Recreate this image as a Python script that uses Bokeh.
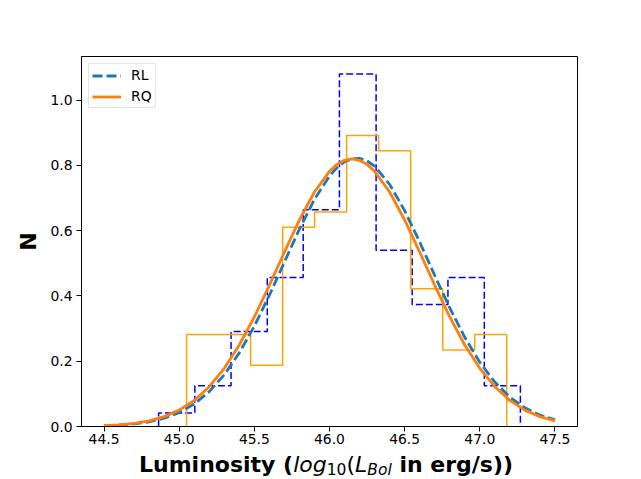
from bokeh.plotting import figure
from bokeh.models import Range1d, FixedTicker, PrintfTickFormatter, Legend, Div
from bokeh.layouts import column
from bokeh.embed import file_html
from bokeh.resources import INLINE

# ---- data ----
rl_edges = [44.863, 45.104, 45.345, 45.586, 45.825, 46.066, 46.310, 46.550, 46.788, 47.030, 47.270]
rl_heights = [0.0415, 0.1246, 0.2908, 0.4570, 0.6646, 1.0800, 0.5400, 0.3738, 0.4570, 0.1246]

rq_edges = [45.049, 45.262, 45.475, 45.688, 45.901, 46.114, 46.327, 46.540, 46.753, 46.966, 47.179]
rq_heights = [0.2817, 0.2817, 0.1878, 0.6103, 0.6573, 0.8920, 0.8451, 0.4225, 0.2347, 0.2817]

fit_x = [44.5, 44.6, 44.7, 44.8, 44.9, 45.0, 45.1, 45.2, 45.3, 45.4, 45.5,
         45.6, 45.7, 45.8, 45.9, 46.0, 46.05, 46.1, 46.15, 46.2, 46.25, 46.3, 46.4, 46.5,
         46.6, 46.7, 46.8, 46.9, 47.0, 47.1, 47.2, 47.3, 47.4, 47.5]
rl_fit = [0.0020, 0.0041, 0.0078, 0.0144, 0.0253, 0.0427, 0.0689, 0.1068, 0.1586, 0.2257, 0.3078,
          0.4023, 0.5040, 0.6051, 0.6962, 0.7677, 0.7935, 0.8114, 0.8209, 0.8218, 0.8139, 0.7977,
          0.7421, 0.6616, 0.5653, 0.4629, 0.3633, 0.2733, 0.1970, 0.1361, 0.0901, 0.0572, 0.0348, 0.0203]
rq_fit = [0.0026, 0.0051, 0.0097, 0.0175, 0.0302, 0.0502, 0.0799, 0.1219, 0.1782, 0.2498, 0.3359,
          0.4328, 0.5346, 0.6330, 0.7186, 0.7820, 0.8034, 0.8157, 0.8200, 0.8157, 0.8034, 0.7820,
          0.7186, 0.6330, 0.5346, 0.4328, 0.3359, 0.2498, 0.1782, 0.1219, 0.0799, 0.0502, 0.0302, 0.0175]

x_ticks = [44.5, 45.0, 45.5, 46.0, 46.5, 47.0, 47.5]
y_ticks = [0.0, 0.2, 0.4, 0.6, 0.8, 1.0]


def step_outline(edges, heights):
    xs = [edges[0]]
    ys = [0.0]
    for i, h in enumerate(heights):
        xs += [edges[i], edges[i + 1]]
        ys += [h, h]
    xs.append(edges[-1])
    ys.append(0.0)
    return xs, ys


W, H = 632, 451
p = figure(width=W, height=H, output_backend="svg", toolbar_location=None,
           x_range=Range1d(44.35, 47.65), y_range=Range1d(0, 1.134))
p.min_border_left = 81
p.min_border_right = W - 577
p.min_border_top = 56
p.min_border_bottom = H - 426
p.background_fill_color = "white"
p.border_fill_color = "white"
p.outline_line_color = "black"
p.outline_line_width = 1
p.grid.visible = False

for ax in (p.xaxis, p.yaxis):
    ax.axis_line_color = "black"
    ax.axis_line_width = 1
    ax.major_tick_line_color = "black"
    ax.major_tick_in = 0
    ax.major_tick_out = 5
    ax.minor_tick_line_color = None
    ax.major_label_text_font = "DejaVu Sans"
    ax.major_label_text_font_size = "13.9px"
    ax.major_label_text_color = "black"

p.xaxis.ticker = FixedTicker(ticks=x_ticks)
p.yaxis.ticker = FixedTicker(ticks=y_ticks)
p.xaxis.formatter = PrintfTickFormatter(format="%.1f")
p.yaxis.formatter = PrintfTickFormatter(format="%.1f")
p.xaxis.major_label_standoff = 2
p.yaxis.major_label_standoff = 4

p.yaxis.axis_label = "N"
p.yaxis.axis_label_text_font = "DejaVu Sans"
p.yaxis.axis_label_text_font_style = "bold"
p.yaxis.axis_label_text_font_size = "22px"
p.yaxis.axis_label_text_color = "black"
p.yaxis.axis_label_standoff = 6

# histograms
hx, hy = step_outline(rl_edges, rl_heights)
p.line(hx, hy, line_color="#0000ff", line_width=1.5, line_dash="7 3")
qx, qy = step_outline(rq_edges, rq_heights)
p.line(qx, qy, line_color="#ffa500", line_width=1.5)

# fitted curves
r_rl = p.line(fit_x, rl_fit, line_color="#1f77b4", line_width=2.8, line_dash="10 4")
r_rq = p.line(fit_x, rq_fit, line_color="#ff7f0e", line_width=2.8)

legend = Legend(items=[("RL", [r_rl]), ("RQ", [r_rq])], location="top_left")
legend.margin = 7
legend.padding = 3
legend.spacing = 5
legend.glyph_width = 29
legend.glyph_height = 15
legend.label_height = 15
legend.label_standoff = 10
legend.label_text_font = "DejaVu Sans"
legend.label_text_font_size = "13.9px"
legend.label_text_color = "black"
legend.border_line_color = "#cccccc"
legend.border_line_width = 1
legend.background_fill_alpha = 0.8
p.add_layout(legend)

# x-axis label with mixed styles (as in matplotlib mathtext)
sub_style = "font-size:15.5px;position:relative;top:3px;"
xlabel_html = (
    '<div style="font-family:\'DejaVu Sans\';font-size:22px;line-height:27px;'
    'color:black;white-space:nowrap;padding-left:139px;">'
    '<span style="font-weight:bold;">Luminosity (</span>'
    '<span style="font-style:italic;">log</span>'
    f'<span style="{sub_style}">10</span>'
    '<span>(</span>'
    '<span style="font-style:italic;">L</span>'
    f'<span style="{sub_style}font-style:italic;">Bol</span>'
    '<span style="font-weight:bold;"> in erg/s))</span>'
    '</div>'
)
xlabel = Div(text=xlabel_html, width=W, height=27, margin=0)

layout = column(p, xlabel, spacing=0)
open("out.html", "w").write(file_html(layout, INLINE))
